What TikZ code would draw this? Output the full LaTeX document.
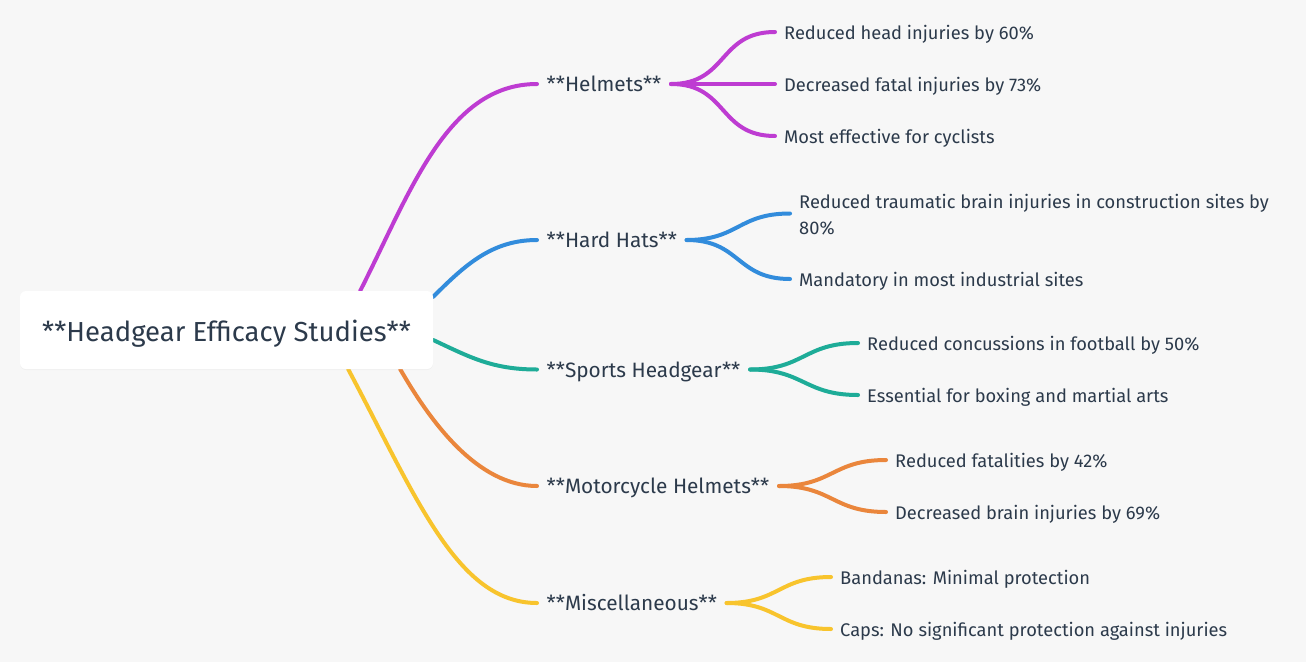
\documentclass[tikz,border=0pt]{standalone}
\usepackage{fontspec}
\setmainfont{Fira Sans}
\usepackage{xcolor}
\usetikzlibrary{positioning,backgrounds,shadows}

\definecolor{bgcol}{RGB}{247,247,247}
\definecolor{inkcol}{RGB}{44,58,75}
\definecolor{helmcol}{RGB}{190,60,210}
\definecolor{hardcol}{RGB}{50,140,220}
\definecolor{sportcol}{RGB}{30,172,152}
\definecolor{motocol}{RGB}{234,134,60}
\definecolor{misccol}{RGB}{248,196,45}

\tikzset{
  branch/.style={line width=4pt, line cap=round},
  twig/.style={branch, out=0, in=180, looseness=1.25},
  rootbox/.style={fill=white, rounded corners=6pt, minimum width=413pt, minimum height=78pt,
    text=inkcol, font=\fontsize{27.5}{33}\selectfont, text height=28pt, text depth=4.6pt,
    drop shadow={opacity=0.05, shadow xshift=0pt, shadow yshift=-1pt}},
  topic/.style={anchor=west, inner xsep=9.5pt, text=inkcol, font=\fontsize{20.8}{25}\selectfont,
    text height=19pt, text depth=3.6pt},
  leaf/.style={anchor=west, inner xsep=9pt, text=inkcol, font=\fontsize{18.3}{26}\selectfont,
    text height=16pt, text depth=2pt},
}

\begin{document}
\begin{tikzpicture}[x=1pt, y=1pt]
    \useasboundingbox (0,0) rectangle (1306,-662);

    \node[rootbox] (root) at (226.5,-330) {**Headgear Efficacy Studies**};

    \node[topic] (helm) at (537,-84) {**Helmets**};
    \node[topic] (hard) at (537,-240) {**Hard Hats**};
    \node[topic] (sport) at (537,-369.5) {**Sports Headgear**};
    \node[topic] (moto) at (537,-486) {**Motorcycle Helmets**};
    \node[topic] (misc) at (537,-603) {**Miscellaneous**};

    \node[leaf] (helm1) at (775,-32) {Reduced head injuries by 60\%};
    \node[leaf] (helm2) at (775,-84) {Decreased fatal injuries by 73\%};
    \node[leaf] (helm3) at (775,-136) {Most effective for cyclists};
    \node[leaf, align=left, text height={}, text depth={}] (hard1) at (790,-215)
        {Reduced traumatic brain injuries in construction sites by\\80\%};
    \node[leaf] (hard2) at (790,-279) {Mandatory in most industrial sites};
    \node[leaf] (sport1) at (858,-343) {Reduced concussions in football by 50\%};
    \node[leaf] (sport2) at (858,-395) {Essential for boxing and martial arts};
    \node[leaf] (moto1) at (886,-460) {Reduced fatalities by 42\%};
    \node[leaf] (moto2) at (886,-512) {Decreased brain injuries by 69\%};
    \node[leaf] (misc1) at (831,-577) {Bandanas: Minimal protection};
    \node[leaf] (misc2) at (831,-629) {Caps: No significant protection against injuries};

    \begin{scope}[on background layer]
        \fill[bgcol] (0,0) rectangle (1306,-662);
        % root to topics
        \path[branch]
            ([xshift=-73pt]root.north east) edge[helmcol, out=63, in=180, out distance=110pt, in distance=90pt] (helm)
            ([yshift=-6pt]root.north east) edge[hardcol, out=45, in=180, out distance=45pt, in distance=45pt] (hard)
            ([yshift=-10pt]root.east) edge[sportcol, out=-25, in=180, out distance=40pt, in distance=45pt] (sport)
            ([xshift=-33pt]root.south east) edge[motocol, out=-60, in=180, out distance=60pt, in distance=60pt] (moto)
            ([xshift=-85pt]root.south east) edge[misccol, out=-62, in=180, out distance=145pt, in distance=80pt] (misc);
        % topics to leaves
        \path[twig]
            (helm) edge[helmcol] (helm1)
            (helm) edge[helmcol] (helm2)
            (helm) edge[helmcol] (helm3)
            (hard) edge[hardcol] ([yshift=1.5pt]hard1.west)
            (hard) edge[hardcol] (hard2)
            (sport) edge[sportcol] (sport1)
            (sport) edge[sportcol] (sport2)
            (moto) edge[motocol] (moto1)
            (moto) edge[motocol] (moto2)
            (misc) edge[misccol] (misc1)
            (misc) edge[misccol] (misc2);
    \end{scope}
\end{tikzpicture}
\end{document}
